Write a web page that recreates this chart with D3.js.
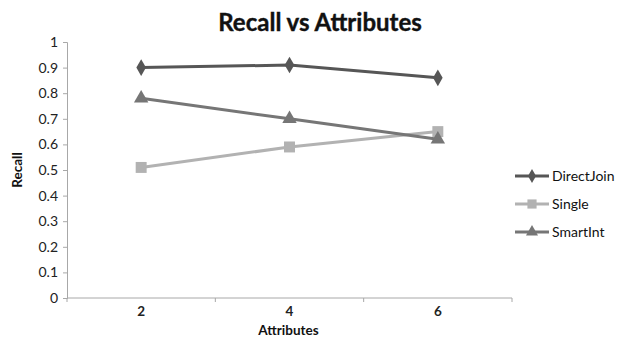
<!DOCTYPE html>
<html>
<head>
<meta charset="utf-8">
<script src="https://cdn.jsdelivr.net/npm/d3@7"></script>
<style>
  html, body { margin: 0; padding: 0; background: #fff; }
  svg { display: block; font-family: Lato, "Open Sans", sans-serif; }
</style>
</head>
<body>
<svg id="chart" width="624" height="337"></svg>
<script>
// Recall per number of attributes for three matching strategies
const categories = ["2", "4", "6"];
const directJoin = [0.90, 0.91, 0.86];
const single = [0.51, 0.59, 0.65];
const smartInt = [0.78, 0.70, 0.62];
const yTicks = [0, 0.1, 0.2, 0.3, 0.4, 0.5, 0.6, 0.7, 0.8, 0.9, 1];
const seriesNames = ["DirectJoin", "Single", "SmartInt"];

const series = [
  { name: seriesNames[0], values: directJoin, color: "#565656", shape: d3.symbolDiamond, size: 80 },
  { name: seriesNames[1], values: single, color: "#b2b2b2", shape: d3.symbolSquare, size: 120 },
  { name: seriesNames[2], values: smartInt, color: "#767676", shape: d3.symbolTriangle, size: 90 }
];

const svg = d3.select("#chart");
const plot = { left: 67, right: 512, top: 42, bottom: 298 };

const x = d3.scaleBand().domain(categories).range([plot.left, plot.right]);
const y = d3.scaleLinear().domain([0, 1]).range([plot.bottom, plot.top]);

// Title
svg.append("text")
  .attr("x", 320).attr("y", 31)
  .attr("text-anchor", "middle")
  .attr("font-size", 24).attr("font-weight", "bold")
  .attr("fill", "#111")
  .attr("stroke", "#111").attr("stroke-width", 0.4)
  .text("Recall vs Attributes");

// Y axis
const yAxis = svg.append("g")
  .attr("transform", `translate(${plot.left},0)`)
  .call(d3.axisLeft(y).tickValues(yTicks).tickFormat(d3.format("")).tickSize(4).tickPadding(5));
yAxis.selectAll("path, line").attr("stroke", "#a8a8a8");
yAxis.selectAll("text").attr("font-size", 14).attr("fill", "#222")
  .attr("font-family", "Lato, 'Open Sans', sans-serif");

// X axis with ticks on category boundaries
const xAxis = svg.append("g")
  .attr("transform", `translate(0,${plot.bottom})`);
xAxis.append("line")
  .attr("x1", plot.left).attr("x2", plot.right)
  .attr("stroke", "#a8a8a8");
const boundaries = categories.map(c => x(c)).concat([x(categories[categories.length - 1]) + x.bandwidth()]);
xAxis.selectAll("line.tick").data(boundaries).join("line")
  .attr("class", "tick")
  .attr("x1", d => d).attr("x2", d => d)
  .attr("y1", 0).attr("y2", 4)
  .attr("stroke", "#a8a8a8");
xAxis.selectAll("text.lbl").data(categories).join("text")
  .attr("class", "lbl")
  .attr("x", d => x(d) + x.bandwidth() / 2)
  .attr("y", 18)
  .attr("text-anchor", "middle")
  .attr("font-size", 13.5).attr("font-weight", "bold")
  .attr("fill", "#222")
  .text(d => d);

// Axis titles
svg.append("text")
  .attr("x", plot.left + (plot.right - plot.left) / 2 - 1)
  .attr("y", 335)
  .attr("text-anchor", "middle")
  .attr("font-size", 13.5).attr("font-weight", "bold")
  .attr("fill", "#111")
  .text("Attributes");
svg.append("text")
  .attr("transform", "translate(22,170) rotate(-90)")
  .attr("text-anchor", "middle")
  .attr("font-size", 13.5).attr("font-weight", "bold")
  .attr("fill", "#111")
  .text("Recall");

// Lines and markers
const cx = (d, i) => x(categories[i]) + x.bandwidth() / 2;
const line = d3.line().x(cx).y(d => y(d));

series.forEach(s => {
  svg.append("path")
    .datum(s.values)
    .attr("d", line)
    .attr("fill", "none")
    .attr("stroke", s.color)
    .attr("stroke-width", 3);
  svg.selectAll(null).data(s.values).join("path")
    .attr("transform", (d, i) => `translate(${cx(d, i)},${y(d)})`)
    .attr("d", d3.symbol().type(s.shape).size(s.size))
    .attr("fill", s.color);
});

// Legend
const legendY = [176, 204, 232];
series.forEach((s, i) => {
  const g = svg.append("g").attr("transform", `translate(515,${legendY[i]})`);
  g.append("line").attr("x1", 0).attr("x2", 34).attr("stroke", s.color).attr("stroke-width", 3);
  g.append("path").attr("transform", "translate(17,0)")
    .attr("d", d3.symbol().type(s.shape).size(s.size * 0.7))
    .attr("fill", s.color);
  g.append("text").attr("x", 37).attr("y", 5)
    .attr("font-size", 14).attr("fill", "#111")
    .text(s.name);
});
</script>
</body>
</html>
